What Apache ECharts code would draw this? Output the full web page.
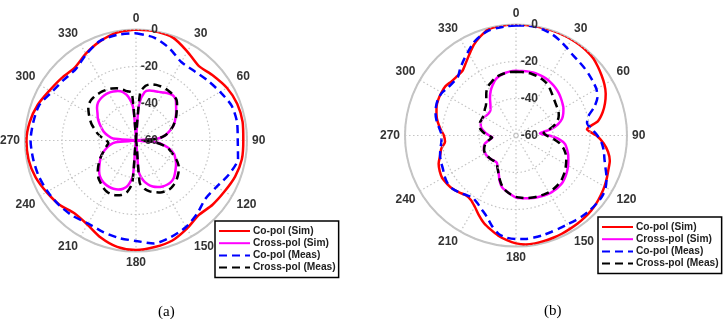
<!DOCTYPE html>
<html>
<head>
<meta charset="utf-8">
<script src="https://cdn.jsdelivr.net/npm/echarts@6.0.0/dist/echarts.min.js"></script>
<style>
html,body{margin:0;padding:0;background:#fff;}
#chart{width:728px;height:319px;}
</style>
</head>
<body>
<div id="chart"></div>
<script>
// ---------- data ----------
var seriesNames = ['Co-pol (Sim)', 'Cross-pol (Sim)', 'Co-pol (Meas)', 'Cross-pol (Meas)'];
var angleTicks = [0, 30, 60, 90, 120, 150, 180, 210, 240, 270, 300, 330];
var radialTicks = [-60, -40, -20, 0];

// (a) co-pol, 10 degree steps
var anglesA10 = [0,10,20,30,40,50,60,70,80,90,100,110,120,130,140,150,160,170,180,190,200,210,220,230,240,250,260,270,280,290,300,310,320,330,340,350,360];
var aCoSim = [0,-0.1,-1,-4.5,-7.3,-5.5,-3.2,-1.8,-1.5,-2,-1.9,-3,-4.8,-6,-7.3,-5,-2.5,-1.5,-0.8,-1.6,-4.2,-7.5,-8.5,-6,-4.2,-2.2,-1,-0.8,-1.7,-3.5,-6,-7.5,-8.5,-5.8,-3,-0.8,0];
var aCoMeas = [-2,-3.5,-7,-11,-11,-9.5,-7.5,-5,-4.5,-5,-4,-6.5,-9.8,-11,-8.5,-6,-4.5,-3.5,-5.7,-6.5,-7.5,-8.2,-6.8,-5.7,-4.8,-4,-3.5,-3,-3.6,-4.3,-7.5,-9,-9.5,-6.2,-2.8,-2,-2];

// (a) cross-pol, 5 degree steps
var anglesA5 = [0,5,10,15,20,25,30,35,40,45,50,55,60,65,70,75,80,85,90,95,100,105,110,115,120,125,130,135,140,145,150,155,160,165,170,175,180,185,190,195,200,205,210,215,220,225,230,235,240,245,250,255,260,265,270,275,280,285,290,295,300,305,310,315,320,325,330,335,340,345,350,355,360];
var aXSim = [-60,-40,-33.5,-32,-31.5,-31,-30,-29,-28.5,-29.5,-31.7,-33.5,-35.3,-37,-39,-41.5,-44,-48,-60,-49,-44.5,-40.5,-38,-36.5,-35,-33.8,-32.5,-31.2,-30.7,-30.8,-31.3,-32.2,-33.5,-35.5,-38.3,-43,-60,-41,-35.5,-33,-31.8,-31.2,-31,-31.1,-31.6,-32.5,-34,-35.8,-37.5,-39,-41,-43.3,-45.5,-49,-60,-47.5,-44.5,-42,-40.2,-38.2,-36.2,-34.6,-32.5,-31,-30.4,-30.2,-30.3,-30.8,-31.5,-33,-36,-42,-60];
var aXMeas = [-60,-34,-30,-28.5,-28,-27.8,-27.8,-28,-28.3,-29,-31,-33.2,-35,-37,-39,-41.5,-44,-48,-56,-50,-45,-41.5,-39,-36,-33.5,-31.8,-30.5,-29.3,-28.5,-28,-28.3,-29,-30.3,-31.5,-33.5,-37,-60,-37,-31.5,-29.5,-28.5,-28,-28.2,-29,-30.2,-31.3,-33,-35,-37,-39,-41,-42.5,-44,-45,-44,-41.5,-39,-37,-34.5,-32.5,-30.5,-28.5,-27.5,-27.3,-27.5,-27.8,-28.3,-29,-30,-31.5,-33,-34,-60];

// (b) all series, 5 degree steps
var anglesB5 = anglesA5.slice();
var bCoSim = [0,0,0,0,0,0,0,-0.2,-0.5,-1,-2.2,-3.5,-4.8,-6.5,-8.8,-11.5,-15,-21.5,-16.5,-12.5,-9.5,-7.5,-6.8,-5.8,-4.8,-4,-3.2,-2.6,-2.2,-1.9,-1.7,-1.4,-1.2,-1,-0.8,-0.9,-1.7,-3.2,-5,-7.3,-9.5,-12.5,-15.5,-17.5,-17.8,-16.5,-15.2,-14.5,-14,-14.5,-15.5,-17.5,-19,-21.5,-21,-19,-17,-15.5,-14.3,-13.7,-13.5,-13.5,-14.5,-14.8,-14.7,-12.5,-9.5,-6,-3.2,-0.8,-0.3,0,0];
var bCoMeas = [-0.5,-0.3,-0.3,-1,-2,-3.5,-5.2,-6.7,-7.5,-8,-8.6,-9.2,-9.8,-11.5,-15,-19.5,-21,-19,-16,-13.5,-11.8,-10.5,-8.5,-6,-4,-3,-3,-3.2,-3.5,-4,-4.5,-4.6,-4.5,-4.2,-4,-3.8,-4,-4.5,-6,-9.5,-13.5,-16,-18,-19,-18,-16.5,-15.2,-14.9,-15.5,-16.5,-17,-17.5,-18.5,-19.5,-19.8,-18.5,-16.5,-15,-14,-13.5,-13.8,-15,-15.5,-15.5,-13,-10.5,-8,-5,-3,-1.5,-1,-0.7,-0.5];
var bXSim = [-25,-25,-24.8,-24.7,-24.8,-25,-25.4,-26,-26.6,-27.4,-28.4,-29.4,-30.4,-31.8,-33.5,-36.5,-41,-47,-42,-36.5,-33,-31.5,-30,-28.8,-27.5,-26.3,-25.2,-24.3,-24,-23.8,-23.8,-24.2,-24.6,-25,-25.5,-26,-26.5,-28,-29.5,-31,-34,-37.8,-40,-42,-42,-41.5,-41,-40.8,-40.7,-40.8,-41.5,-42.5,-45,-47.2,-45.5,-43.5,-41.5,-40.3,-39.8,-39.5,-40,-40.8,-41,-40.5,-38.5,-35.5,-32.5,-30,-27.8,-26.5,-25.7,-25.2,-25];
var bXMeas = [-25.5,-25.5,-25.5,-25.7,-26,-26.5,-27.2,-28.5,-30,-31.3,-32.3,-33,-33.5,-34.5,-36,-38.5,-42,-45,-43.5,-40,-36,-33.5,-31.5,-30,-28.8,-27.5,-26.5,-25.5,-25,-24.7,-24.5,-24.7,-25,-25.3,-25.7,-26.2,-26.8,-28,-29.5,-31.5,-34.5,-37.5,-40,-41.5,-41.8,-41.5,-41.2,-41,-40.7,-41,-41.8,-43,-45,-47,-45,-42.5,-40.5,-39.5,-39.3,-39.5,-39.5,-39,-38,-37,-35,-32,-29.5,-28.3,-27,-26.2,-25.8,-25.5,-25.5];

// ---------- build ----------
function pairs(angles, vals) {
  var out = [];
  for (var i = 0; i < angles.length; i++) out.push([vals[i], angles[i]]);
  return out;
}
var styles = [
  {color: '#ff0000', type: 'solid'},
  {color: '#ff00ff', type: 'solid'},
  {color: '#0000ff', type: [8, 5]},
  {color: '#000000', type: [8, 5]}
];
function mkSeries(idx, polarIndex, data) {
  return {
    name: seriesNames[idx], type: 'line', coordinateSystem: 'polar', polarIndex: polarIndex,
    data: data, symbol: 'none', smooth: 0.25, z: 3 + idx,
    lineStyle: {color: styles[idx].color, width: 2.5, type: styles[idx].type},
    itemStyle: {color: styles[idx].color}
  };
}
var labelFont = {color: '#333', fontWeight: 'bold', fontSize: 12, fontFamily: 'Liberation Sans, Arial, sans-serif'};
function angleAxis(pi) {
  return {
    polarIndex: pi, type: 'value', min: 0, max: 360, interval: 30, startAngle: 90, clockwise: true,
    axisLine: {show: true, lineStyle: {color: '#c4c4c4', width: 2}},
    axisTick: {show: false},
    axisLabel: Object.assign({margin: 5, formatter: function (v) { return angleTicks.indexOf(v) >= 0 ? String(v) : ''; }}, labelFont),
    splitLine: {show: true, lineStyle: {color: '#c4c4c4', type: [1.5, 2.5], width: 1.2}}
  };
}
function radiusAxis(pi) {
  return {
    polarIndex: pi, type: 'value', min: radialTicks[0], max: radialTicks[radialTicks.length - 1], interval: 20,
    axisLine: {show: false}, axisTick: {show: false},
    axisLabel: Object.assign({margin: -22, align: 'right', verticalAlign: 'middle', formatter: function (v) { return String(v); }}, labelFont),
    splitLine: {show: true, lineStyle: {color: '#c4c4c4', type: [1.5, 2.5], width: 1.2}},
    z: 10
  };
}
function legend(left, top) {
  return {
    orient: 'vertical', left: left, top: top, data: seriesNames,
    itemWidth: 31, itemHeight: 12, itemGap: 2.2, padding: [5, 3, 5, 3],
    backgroundColor: '#fff', borderColor: '#000', borderWidth: 1.5,
    itemStyle: {opacity: 0},
    textStyle: {color: '#222', fontWeight: 'bold', fontSize: 10.2, fontFamily: 'Liberation Sans, Arial, sans-serif', padding: [0, 0, 0, -2]},
    selectedMode: false
  };
}

var option = {
  animation: false,
  backgroundColor: '#fff',
  polar: [
    {center: [136, 140.5], radius: 111},
    {center: [516, 135.5], radius: 111}
  ],
  angleAxis: [angleAxis(0), angleAxis(1)],
  radiusAxis: [radiusAxis(0), radiusAxis(1)],
  legend: [legend(215, 221), legend(598, 217)],
  series: [
    mkSeries(0, 0, pairs(anglesA10, aCoSim)),
    mkSeries(1, 0, pairs(anglesA5, aXSim)),
    mkSeries(2, 0, pairs(anglesA10, aCoMeas)),
    mkSeries(3, 0, pairs(anglesA5, aXMeas)),
    mkSeries(0, 1, pairs(anglesB5, bCoSim)),
    mkSeries(1, 1, pairs(anglesB5, bXSim)),
    mkSeries(2, 1, pairs(anglesB5, bCoMeas)),
    mkSeries(3, 1, pairs(anglesB5, bXMeas))
  ],
  graphic: [
    {type: 'text', left: 158, top: 305, style: {text: '(a)', fontSize: 15, fontFamily: 'Liberation Serif, Times New Roman, serif', fill: '#000'}},
    {type: 'text', left: 544, top: 304, style: {text: '(b)', fontSize: 15, fontFamily: 'Liberation Serif, Times New Roman, serif', fill: '#000'}}
  ]
};
var chart = echarts.init(document.getElementById('chart'), null, {renderer: 'canvas'});
chart.setOption(option);
</script>
</body>
</html>
